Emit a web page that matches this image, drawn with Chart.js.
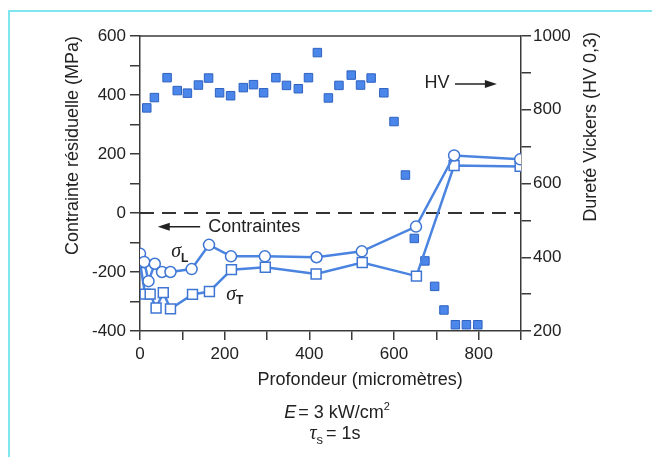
<!DOCTYPE html>
<html><head><meta charset="utf-8">
<script src="https://cdn.jsdelivr.net/npm/chart.js@4/dist/chart.umd.min.js"></script>
<style>
html,body{margin:0;padding:0;background:#fff;}
#wrap{position:relative;width:652px;height:457px;overflow:hidden;background:#fff;}
#frame{position:absolute;left:8px;top:10px;width:700px;height:500px;border-left:2px solid #7fe6ef;border-top:2px solid #7fe6ef;pointer-events:none;}
canvas{position:absolute;left:0;top:0;}
</style></head><body>
<div id="wrap"><canvas id="c" width="652" height="457"></canvas><div id="frame"></div></div>
<script>
// ---- data ----
const depthL = [0, 10, 20, 35, 52, 72, 122, 163, 215, 295, 417, 524, 652, 742, 898];
const sigmaL = [-138, -166, -231, -172, -200, -200, -190, -108, -147, -147, -150, -130, -46, 195, 182];
const depthT = [0, 12, 24, 38, 55, 72, 124, 164, 216, 296, 416, 525, 653, 742, 898];
const sigmaT = [-168, -275, -275, -322, -270, -325, -276, -266, -192, -184, -207, -168, -214, 161, 158];
const depthHV = [16, 34, 64, 88, 112, 138, 162, 188, 214, 244, 268, 292, 321, 346, 374, 398, 419, 445, 470, 499, 521, 546, 576, 600, 627, 648, 673, 696, 718, 745, 771, 798];
const hardness = [805, 833, 887, 852, 845, 867, 886, 846, 838, 860, 868, 846, 887, 866, 857, 887, 955, 832, 866, 894, 867, 886, 846, 768, 623, 451, 390, 321, 257, 217, 217, 217];
const zeroX = [0, 900];
const zeroY = [0, 0];
const xTickLabels = [0, 200, 400, 600, 800];
const yTickLabels = [-400, -200, 0, 200, 400, 600];
const y2TickLabels = [200, 400, 600, 800, 1000];

const pts = (xs, ys) => xs.map((x, i) => ({x: x, y: ys[i]}));
const FONT = "'Liberation Sans', Arial, sans-serif";
const TXT = '#222';
const AX = '#3a3a3a';
const BLUE = '#4a84e0';

function richLine(ctx, segs, cx, y) {
  let w = 0;
  segs.forEach(s => { ctx.font = s.f; w += ctx.measureText(s.t).width + (s.gap || 0); });
  let x = cx - w / 2;
  ctx.textBaseline = 'alphabetic';
  ctx.textAlign = 'left';
  segs.forEach(s => { ctx.font = s.f; ctx.fillText(s.t, x, y + (s.dy || 0)); x += ctx.measureText(s.t).width + (s.gap || 0); });
}

const deco = {
  id: 'deco',
  beforeDatasetsDraw(chart) {
    const {ctx, chartArea: a} = chart;
    ctx.save();
    ctx.strokeStyle = AX; ctx.lineWidth = 1.5;
    ctx.beginPath(); ctx.moveTo(a.left, a.top); ctx.lineTo(a.right, a.top); ctx.stroke();
    ctx.restore();
  },
  afterDraw(chart) {
    const {ctx, chartArea: a} = chart;
    const xs = chart.scales.x, ys = chart.scales.y;
    ctx.save();
    ctx.fillStyle = TXT; ctx.strokeStyle = TXT;
    // HV arrow label
    ctx.font = '18px ' + FONT; ctx.textBaseline = 'middle'; ctx.textAlign = 'left';
    const hvY = ys.getPixelForValue(441);
    ctx.fillText('HV', xs.getPixelForValue(672), hvY);
    const ax1 = xs.getPixelForValue(744), ax2 = xs.getPixelForValue(843);
    ctx.lineWidth = 1.5;
    ctx.beginPath(); ctx.moveTo(ax1, hvY + 1); ctx.lineTo(ax2 - 8, hvY + 1); ctx.stroke();
    ctx.beginPath(); ctx.moveTo(ax2, hvY + 1); ctx.lineTo(ax2 - 12, hvY - 3); ctx.lineTo(ax2 - 12, hvY + 5); ctx.closePath(); ctx.fill();
    // Contraintes arrow label
    const cY = ys.getPixelForValue(-47);
    ctx.fillText('Contraintes', xs.getPixelForValue(161), cY);
    const bx1 = xs.getPixelForValue(42), bx2 = xs.getPixelForValue(142);
    ctx.beginPath(); ctx.moveTo(bx1 + 8, cY); ctx.lineTo(bx2, cY); ctx.stroke();
    ctx.beginPath(); ctx.moveTo(bx1, cY); ctx.lineTo(bx1 + 12, cY - 4); ctx.lineTo(bx1 + 12, cY + 4); ctx.closePath(); ctx.fill();
    // sigma labels
    ctx.textBaseline = 'alphabetic';
    ctx.font = 'italic 20px "Liberation Serif", serif';
    ctx.fillText('σ', xs.getPixelForValue(74), ys.getPixelForValue(-150));
    ctx.fillText('σ', xs.getPixelForValue(204), ys.getPixelForValue(-295));
    ctx.font = 'bold 12px ' + FONT;
    ctx.fillText('L', xs.getPixelForValue(97), ys.getPixelForValue(-165));
    ctx.fillText('T', xs.getPixelForValue(227), ys.getPixelForValue(-310));
    // right axis title (reads bottom to top)
    ctx.save();
    ctx.font = '18px ' + FONT; ctx.textAlign = 'right'; ctx.textBaseline = 'middle';
    ctx.translate(591, a.top - 4); ctx.rotate(-Math.PI / 2);
    ctx.fillText('Dureté Vickers (HV 0,3)', 0, 0);
    ctx.restore();
    // x title
    ctx.font = '18px ' + FONT; ctx.textAlign = 'center'; ctx.textBaseline = 'middle';
    ctx.fillText('Profondeur (micromètres)', xs.getPixelForValue(520), a.bottom + 49);
    // conditions
    richLine(ctx, [
      {t: 'E', f: 'italic 18px ' + FONT, gap: 2},
      {t: '= 3 kW/cm', f: '18px ' + FONT},
      {t: '2', f: '11px ' + FONT, dy: -8}
    ], 337, a.bottom + 87);
    richLine(ctx, [
      {t: 'τ', f: 'italic 20px "Liberation Serif", serif'},
      {t: 's', f: '13px ' + FONT, dy: 5, gap: 3},
      {t: '= 1s', f: '18px ' + FONT}
    ], 335, a.bottom + 108);
    ctx.restore();
  }
};

const tickCb = allowed => v => allowed.includes(v) ? String(v) : '';

new Chart(document.getElementById('c'), {
  type: 'scatter',
  data: {
    datasets: [
      {
        label: 'zero', data: pts(zeroX, zeroY), yAxisID: 'y', showLine: true,
        borderColor: '#333', borderWidth: 1.8, borderDash: [14, 8], pointRadius: 0, order: 4
      },
      {
        label: 'HV', data: pts(depthHV, hardness), yAxisID: 'y2',
        pointStyle: 'rect', pointRadius: 6, backgroundColor: '#4b86ea', borderColor: '#2f62c0', borderWidth: 1, order: 3
      },
      {
        label: 'sigmaT', data: pts(depthT, sigmaT), yAxisID: 'y', showLine: true,
        borderColor: BLUE, borderWidth: 2.5, pointStyle: 'rect', pointRadius: 7,
        pointBackgroundColor: '#fff', pointBorderColor: '#3f76d4', pointBorderWidth: 1.5, order: 2
      },
      {
        label: 'sigmaL', data: pts(depthL, sigmaL), yAxisID: 'y', showLine: true,
        borderColor: BLUE, borderWidth: 2.5, pointStyle: 'circle', pointRadius: 5.5,
        pointBackgroundColor: '#fff', pointBorderColor: '#3f76d4', pointBorderWidth: 1.5, order: 1
      }
    ]
  },
  options: {
    responsive: false, animation: false, devicePixelRatio: 1,
    layout: {padding: {left: 58, right: 0, top: 36, bottom: 62}},
    plugins: {legend: {display: false}, tooltip: {enabled: false}},
    scales: {
      x: {
        type: 'linear', position: 'bottom', min: 0, max: 900,
        afterFit: s => { s.height = 64; },
        ticks: {stepSize: 100, autoSkip: false, maxRotation: 0, padding: 4, color: TXT, font: {family: FONT, size: 17}, callback: tickCb(xTickLabels)},
        grid: {drawOnChartArea: false, drawTicks: true, tickLength: 9, color: AX, lineWidth: 1.5},
        border: {color: AX, width: 1.5},
        title: {display: false}
      },
      y: {
        type: 'linear', position: 'left', min: -400, max: 600,
        afterFit: s => { s.width = 82; },
        ticks: {stepSize: 100, autoSkip: false, padding: 4, color: TXT, font: {family: FONT, size: 17}, callback: tickCb(yTickLabels)},
        grid: {drawOnChartArea: false, drawTicks: true, tickLength: 10, color: AX, lineWidth: 1.5},
        border: {color: AX, width: 1.5},
        title: {display: true, text: 'Contrainte résiduelle (MPa)', align: 'end', color: TXT, font: {family: FONT, size: 18}}
      },
      y2: {
        type: 'linear', position: 'right', min: 200, max: 1000,
        afterFit: s => { s.width = 131; },
        ticks: {stepSize: 100, autoSkip: false, padding: 2, color: TXT, font: {family: FONT, size: 17}, callback: tickCb(y2TickLabels)},
        grid: {drawOnChartArea: false, drawTicks: true, tickLength: 10, color: AX, lineWidth: 1.5},
        border: {color: AX, width: 1.5}
      }
    }
  },
  plugins: [deco]
});
</script>
</body></html>
